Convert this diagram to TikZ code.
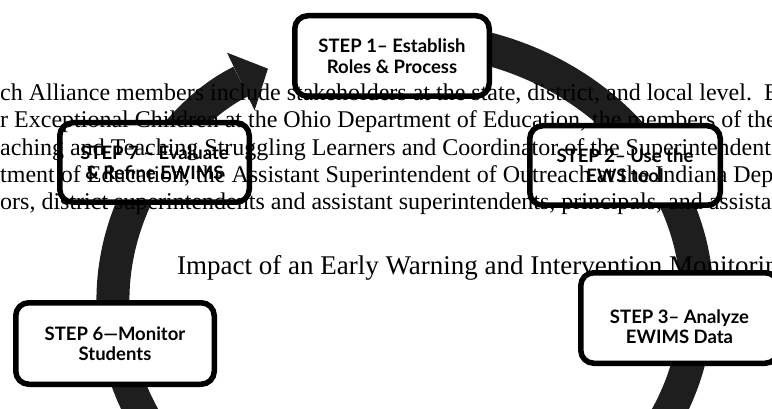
\documentclass[tikz,border=0pt]{standalone}
\usepackage{fontspec}
\setmainfont{Liberation Serif}
\newfontfamily\lato{Lato}
\usetikzlibrary{arrows.meta}
\definecolor{arcgray}{RGB}{30,30,30}
\begin{document}
\begin{tikzpicture}[x=1pt,y=-1pt,
  stepbox/.style={draw=black, fill=white, line width=5.5pt, rounded corners=13pt, align=center,
    font=\lato\bfseries\fontsize{18.5}{20.5}\selectfont, inner sep=0pt},
  doctext/.style={anchor=base west, inner sep=0pt, font=\fontsize{24}{27}\selectfont}]
\useasboundingbox (0,0) rectangle (772,409);
\clip (0,0) rectangle (772,409);
\draw[arcgray, line width=33pt, -{Triangle[width=64pt,length=30pt,line width=0pt]}]
  ([shift={(-78:292 and 262)}]405,300) arc[start angle=-78, end angle=242, x radius=292, y radius=262];
\node[stepbox, minimum width=194.5pt, minimum height=80.5pt] (s1) at (392,56) {STEP 1– Establish\\Roles \& Process};
\node[stepbox, minimum width=189.5pt, minimum height=79.5pt] (s7) at (154.5,162.5) {STEP 7 – Evaluate\\\& Refine EWIMS};
\node[stepbox, minimum width=190.5pt, minimum height=79.5pt] (s2) at (625,165.5) {STEP 2– Use the\\EWS tool};
\node[stepbox, minimum width=198.5pt, minimum height=81.5pt] (s6) at (115,343.5) {STEP 6—Monitor\\Students};
\node[stepbox, minimum width=197.5pt, minimum height=90.5pt] (s3) at (679.5,318) {\rule{0pt}{31pt}STEP 3– Analyze\\EWIMS Data};
\node[doctext] (t1) at (0,101) {ch Alliance members include stakeholders at the state, district, and local level.\ \ E};
\node[doctext] (t2) at (0,128) {r Exceptional Children at the Ohio Department of Education, the members of the};
\node[doctext] (t3) at (0,155.5) {aching and Teaching Struggling Learners and Coordinator of the Superintendent};
\node[doctext] (t4) at (0,182.5) {tment of Education, the Assistant Superintendent of Outreach at the Indiana Depa};
\node[doctext] (t5) at (0,209.5) {ors, district superintendents and assistant superintendents, principals, and assistan};
\node[doctext, font=\fontsize{27}{30}\selectfont] (t6) at (177,275) {Impact of an Early Warning and Intervention Monitorin};
\end{tikzpicture}
\end{document}
